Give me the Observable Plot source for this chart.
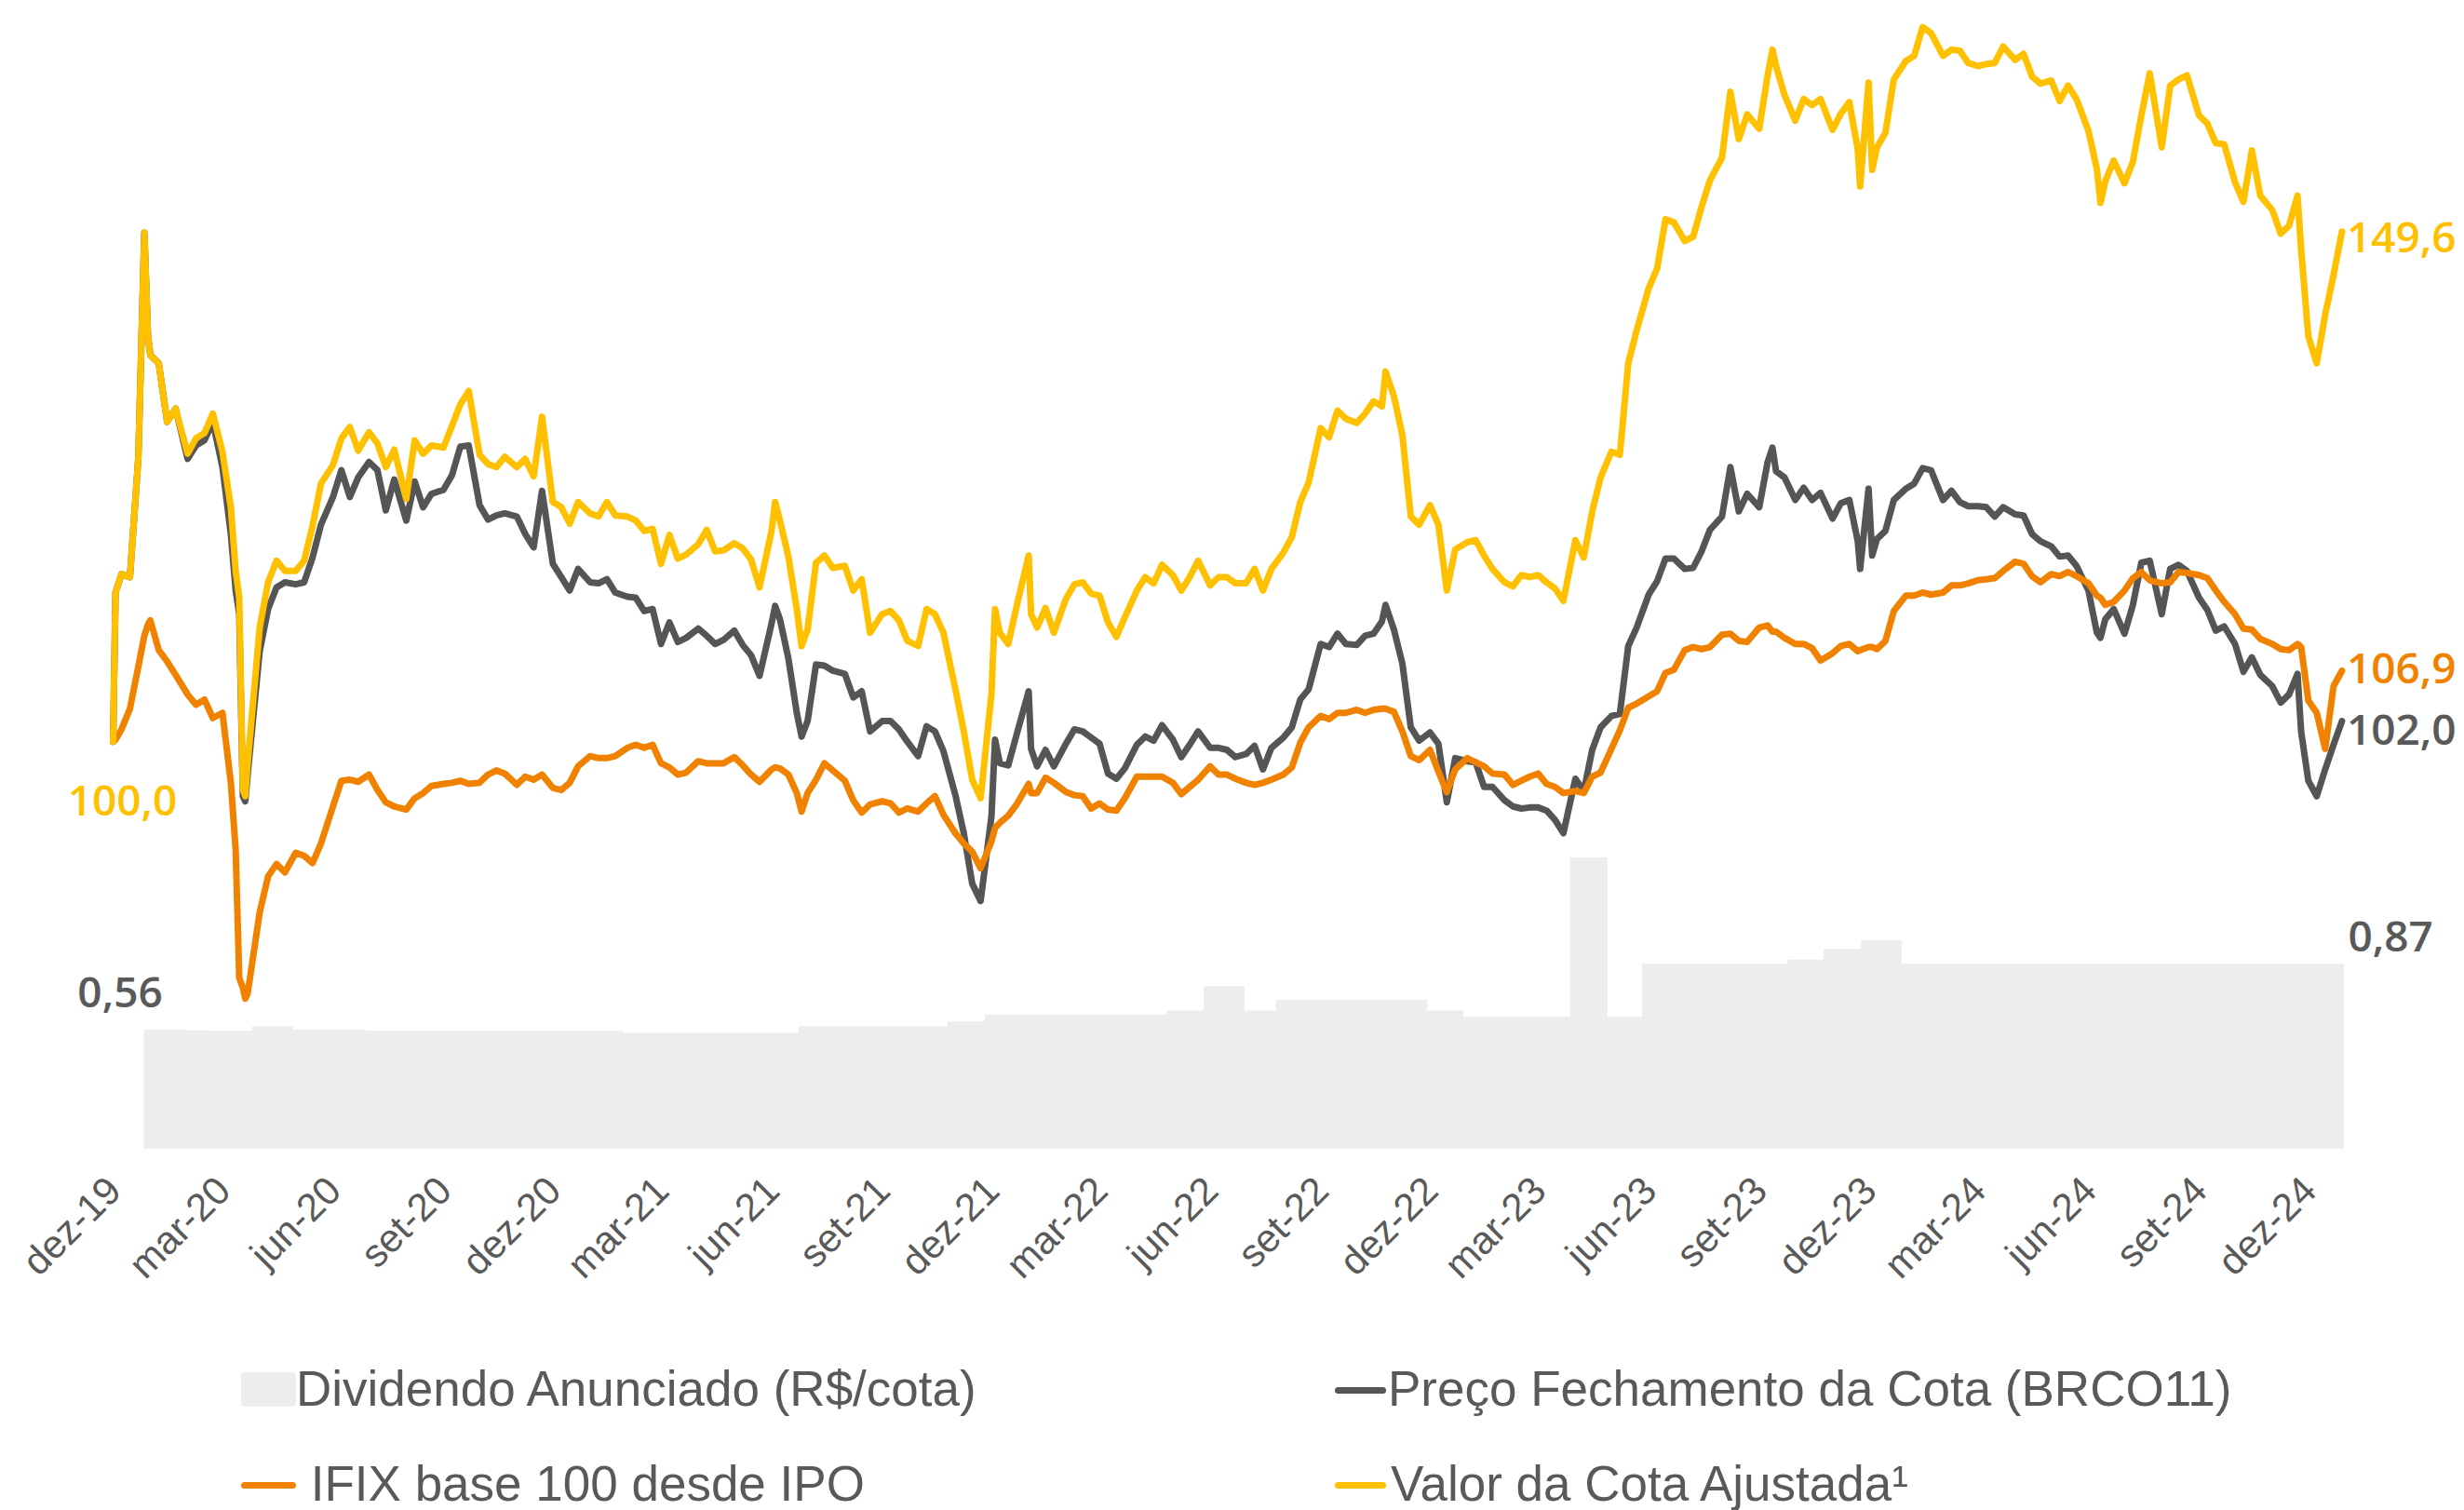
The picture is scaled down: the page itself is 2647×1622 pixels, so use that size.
<!DOCTYPE html>
<html><head><meta charset="utf-8">
<script src="https://cdn.jsdelivr.net/npm/d3@7"></script>
<script src="https://cdn.jsdelivr.net/npm/@observablehq/plot@0.6"></script>
<style>
html,body{margin:0;padding:0;background:#fff;}
#wrap{position:relative;width:2647px;height:1622px;overflow:hidden;background:#fff;}
#wrap svg{position:absolute;left:0;top:0;}
.leg{position:absolute;font-family:"Liberation Sans",Arial,sans-serif;font-size:53px;line-height:53px;color:#595959;white-space:pre;}
.sw{position:absolute;}
</style></head><body><div id="wrap"></div>
<script>
// ---------- DATA ----------
const dates = [
"2019-12-01","2019-12-03","2019-12-08","2019-12-15","2019-12-22","2019-12-27","2019-12-30",
"2020-01-01","2020-01-08","2020-01-15","2020-01-22","2020-02-01","2020-02-08","2020-02-15","2020-02-22",
"2020-03-01","2020-03-08","2020-03-12","2020-03-15","2020-03-18","2020-03-20","2020-03-22",
"2020-04-01","2020-04-08","2020-04-15","2020-04-22","2020-05-01","2020-05-08","2020-05-15","2020-05-22",
"2020-06-01","2020-06-08","2020-06-15","2020-06-22","2020-07-01","2020-07-08","2020-07-15","2020-07-22",
"2020-08-01","2020-08-08","2020-08-15","2020-08-22","2020-09-01","2020-09-08","2020-09-15","2020-09-22",
"2020-10-01","2020-10-08","2020-10-15","2020-10-22","2020-11-01","2020-11-08","2020-11-15","2020-11-22",
"2020-12-01","2020-12-08","2020-12-15","2020-12-22",
"2021-01-01","2021-01-08","2021-01-15","2021-01-22","2021-02-01","2021-02-08","2021-02-15","2021-02-22",
"2021-03-01","2021-03-08","2021-03-15","2021-03-22","2021-04-01","2021-04-08","2021-04-15","2021-04-22",
"2021-05-01","2021-05-08","2021-05-15","2021-05-22",
"2021-06-01","2021-06-04","2021-06-08","2021-06-15","2021-06-22","2021-06-26",
"2021-07-01","2021-07-08","2021-07-15","2021-07-22","2021-08-01","2021-08-08","2021-08-15","2021-08-22",
"2021-09-01","2021-09-08","2021-09-15","2021-09-22","2021-10-01","2021-10-08","2021-10-15","2021-10-22",
"2021-11-01","2021-11-08","2021-11-15","2021-11-22",
"2021-12-01","2021-12-04","2021-12-08","2021-12-15","2021-12-22",
"2022-01-01","2022-01-03","2022-01-08","2022-01-15","2022-01-22",
"2022-02-01","2022-02-08","2022-02-15","2022-02-22","2022-03-01","2022-03-08","2022-03-15","2022-03-22",
"2022-04-01","2022-04-08","2022-04-15","2022-04-22","2022-05-01","2022-05-08","2022-05-15","2022-05-22",
"2022-06-01","2022-06-08","2022-06-15","2022-06-22","2022-07-01","2022-07-08","2022-07-15","2022-07-22",
"2022-08-01","2022-08-08","2022-08-15","2022-08-22","2022-09-01","2022-09-08","2022-09-15","2022-09-22",
"2022-10-01","2022-10-08","2022-10-15","2022-10-22","2022-10-25",
"2022-11-01","2022-11-08","2022-11-15","2022-11-22","2022-12-01","2022-12-08","2022-12-15","2022-12-22",
"2023-01-01","2023-01-08","2023-01-15","2023-01-22","2023-02-01","2023-02-08","2023-02-15","2023-02-22",
"2023-03-01","2023-03-08","2023-03-15","2023-03-22","2023-04-01","2023-04-08","2023-04-15","2023-04-22",
"2023-05-01","2023-05-08","2023-05-15","2023-05-22","2023-06-01","2023-06-08","2023-06-15","2023-06-22",
"2023-07-01","2023-07-08","2023-07-15","2023-07-22","2023-08-01","2023-08-08","2023-08-15","2023-08-22",
"2023-09-01","2023-09-08","2023-09-12","2023-09-15","2023-09-22",
"2023-10-01","2023-10-08","2023-10-15","2023-10-22",
"2023-11-01","2023-11-08","2023-11-15","2023-11-22","2023-11-24",
"2023-12-01","2023-12-04","2023-12-08","2023-12-15","2023-12-22",
"2024-01-01","2024-01-08","2024-01-15","2024-01-22","2024-02-01","2024-02-08","2024-02-15","2024-02-22",
"2024-03-01","2024-03-08","2024-03-15","2024-03-22","2024-04-01","2024-04-08","2024-04-15","2024-04-22",
"2024-05-01","2024-05-08","2024-05-15","2024-05-22",
"2024-06-01","2024-06-08","2024-06-11","2024-06-15","2024-06-22",
"2024-07-01","2024-07-08","2024-07-15","2024-07-22","2024-08-01","2024-08-08","2024-08-15","2024-08-22",
"2024-09-01","2024-09-08","2024-09-15","2024-09-22","2024-10-01","2024-10-08","2024-10-15","2024-10-22",
"2024-11-01","2024-11-08","2024-11-15","2024-11-22","2024-11-25",
"2024-12-01","2024-12-08","2024-12-15","2024-12-22","2024-12-29"
];

// Valor da Cota Ajustada (base 100)
const valorCotaAjustada = [
100.0,114.5,116.3,116.0,127.6,149.5,139.5,
137.6,136.8,131.1,132.4,128.0,129.5,130.0,131.9,
128.2,122.8,116.6,114.0,95.3,94.7,97.9,
111.1,115.5,117.6,116.6,116.6,117.6,121.0,125.1,
126.9,129.5,130.6,128.3,130.1,129.0,126.7,128.4,
123.6,129.3,128.0,128.8,128.6,130.7,132.8,134.1,
127.9,127.0,126.7,127.7,126.7,127.5,125.8,131.6,
123.3,122.8,121.2,123.3,
122.2,121.9,123.3,122.0,121.9,121.5,120.5,120.7,
117.3,120.1,117.8,118.2,119.2,120.6,118.5,118.6,
119.3,118.8,117.7,115.0,
120.5,123.3,121.5,118.0,112.9,109.3,
110.9,117.4,118.1,116.9,117.1,114.7,115.8,110.6,
112.4,112.7,111.8,109.8,109.3,112.9,112.4,110.6,
105.1,101.0,96.3,94.5,
104.6,112.9,110.6,109.5,113.2,
118.1,112.4,111.1,113.0,110.6,
113.9,115.3,115.5,114.4,114.2,111.6,110.2,112.1,
114.7,116.0,115.4,117.2,116.2,114.7,116.0,117.6,
115.2,116.0,116.0,115.4,115.4,116.8,114.7,116.8,
118.4,119.9,123.3,125.2,130.5,129.6,132.2,131.4,
131.0,131.9,133.1,132.6,136.0,
133.6,129.8,121.9,121.1,123.0,121.1,114.7,118.7,
119.4,119.6,118.1,116.8,115.5,115.1,116.2,116.0,
116.2,115.5,114.9,113.7,119.6,117.9,122.4,125.7,
128.2,127.9,136.8,140.0,144.1,146.0,150.8,150.5,
148.7,149.1,152.0,154.6,156.8,163.2,158.6,161.0,
159.6,164.8,167.3,165.7,162.9,
160.4,162.5,161.9,162.5,
159.5,161.1,162.2,157.6,154.0,
164.1,155.6,157.8,159.2,164.4,
166.2,166.7,169.5,168.9,166.7,167.3,167.2,166.0,
165.7,165.9,166.0,167.6,166.3,166.9,164.7,164.0,
164.3,162.3,163.8,162.5,
159.4,155.7,152.4,154.5,156.5,
154.3,156.4,160.9,165.0,157.8,163.8,164.4,164.8,
160.9,160.1,158.2,158.1,154.4,152.5,157.5,153.1,
151.7,149.4,150.2,153.1,147.9,
139.4,136.8,141.5,145.4,149.6
];

// Preço Fechamento da Cota (BRCO11), base 100
const precoFechamento = [
100.0,114.5,116.3,116.0,127.6,149.5,139.5,
137.6,136.8,131.1,132.4,127.5,128.8,129.3,131.1,
126.7,120.2,114.7,112.4,94.7,94.2,96.8,
108.8,112.9,115.0,115.5,115.3,115.5,117.9,121.1,
123.8,126.4,123.8,125.7,127.2,126.4,122.5,125.5,
121.5,125.3,122.8,124.1,124.5,125.9,128.7,128.8,
123.0,121.6,122.0,122.2,121.9,120.2,118.9,124.4,
117.3,116.0,114.7,116.8,
115.5,115.4,115.8,114.5,114.1,114.0,112.7,112.9,
109.5,111.6,109.7,110.1,111.0,110.3,109.5,109.9,
110.8,109.4,108.4,106.4,
111.5,113.2,111.9,108.1,102.8,100.5,
102.0,107.5,107.4,106.9,106.6,104.3,104.9,101.0,
102.0,102.0,101.2,100.0,98.6,101.5,101.0,99.1,
94.8,91.1,86.2,84.5,
92.7,100.2,97.9,97.7,100.7,
104.9,99.3,97.6,99.2,97.6,
99.8,101.2,101.0,100.4,99.8,96.9,96.4,97.4,
99.7,100.5,100.1,101.6,100.2,98.5,99.7,101.0,
99.4,99.4,99.2,98.5,98.8,99.6,97.3,99.4,
100.4,101.4,104.1,105.1,109.5,109.2,110.5,109.5,
109.4,110.3,110.5,111.7,113.3,
110.9,107.6,101.4,100.1,100.9,99.8,94.1,98.4,
98.1,98.0,95.6,95.6,94.3,93.7,93.5,93.6,
93.6,93.3,92.4,91.1,96.4,95.2,99.2,101.4,
102.5,102.7,109.3,111.1,114.3,115.6,117.8,117.8,
116.8,116.9,118.5,120.6,121.9,126.7,122.4,124.1,
122.8,127.2,128.6,126.3,125.7,
123.5,124.7,123.5,124.2,
121.7,123.2,123.5,119.5,116.8,
124.6,118.1,119.7,120.5,123.5,
124.6,125.1,126.6,126.4,123.5,124.4,123.3,122.9,
122.9,122.8,121.9,122.8,122.1,122.0,120.2,119.5,
119.0,118.0,118.1,117.1,
114.7,110.6,110.1,111.9,112.9,
110.5,113.3,117.4,117.6,112.4,116.8,117.2,116.6,
114.0,112.8,110.8,111.2,109.5,106.8,108.2,106.5,
105.4,103.8,104.6,106.6,101.0,
96.2,94.7,97.3,99.7,102.0
];

// IFIX base 100 desde IPO
const ifixBase100 = [
100.0,100.2,101.2,103.2,107.3,110.3,111.4,
111.8,108.9,107.8,106.5,104.6,103.6,104.1,102.3,
102.8,96.0,89.5,77.0,76.1,75.0,75.5,
83.4,86.9,88.1,87.3,89.2,88.9,88.2,90.1,
93.7,96.2,96.3,96.1,96.8,95.3,94.1,93.7,
93.4,94.5,95.0,95.7,95.9,96.0,96.2,95.9,
96.0,96.8,97.2,96.9,95.8,96.6,96.3,96.8,
95.5,95.3,96.0,97.6,
98.6,98.4,98.4,98.6,99.4,99.7,99.4,99.7,
97.9,97.5,96.8,97.0,98.1,97.9,97.9,97.9,
98.5,97.7,96.8,96.1,
97.3,97.5,97.4,96.8,95.0,93.2,
95.0,96.3,97.9,97.2,96.2,94.3,93.1,93.9,
94.2,94.0,93.1,93.5,93.2,94.0,94.7,92.9,
91.1,90.1,89.3,87.7,
90.3,91.6,92.1,92.8,93.9,
95.9,95.0,95.0,96.5,96.0,
95.1,94.8,94.7,93.5,94.0,93.4,93.3,94.5,
96.6,96.6,96.6,96.6,96.0,94.9,95.6,96.3,
97.6,96.8,96.8,96.4,96.0,95.8,96.0,96.3,
96.8,97.5,99.9,101.4,102.5,102.2,102.8,102.8,
103.1,102.8,103.1,103.2,103.2,
102.9,101.0,98.6,98.2,99.2,97.1,95.1,97.3,
98.4,98.0,97.6,96.9,96.8,95.8,96.2,96.6,
96.9,95.9,95.6,95.0,95.2,95.0,96.6,97.0,
99.3,101.1,103.3,103.7,104.4,104.9,106.7,107.0,
108.9,109.2,109.0,109.2,110.4,110.5,109.8,109.7,
111.1,111.3,110.7,110.7,110.1,
109.5,109.5,109.1,107.9,
108.6,109.3,109.5,108.8,108.9,
109.2,109.2,109.0,109.8,112.7,
114.2,114.2,114.5,114.3,114.5,115.2,115.2,115.4,
115.7,115.8,115.9,116.6,117.5,117.3,116.1,115.5,
116.3,116.1,116.5,116.1,
115.4,114.2,114.0,113.3,113.6,
114.7,115.9,116.5,115.7,115.4,115.5,116.5,116.4,
116.2,115.9,114.7,113.6,112.4,111.0,110.9,110.0,
109.5,109.0,108.9,109.5,109.2,
104.0,102.8,99.3,105.4,106.9
];

// Dividendo Anunciado (R$/cota): dates where the value changes
const dividendDates = [
"2019-12-27","2020-01-31","2020-02-20","2020-03-26","2020-04-29","2020-06-29",
"2021-01-29","2021-06-24","2021-10-26","2021-11-26","2022-04-26","2022-05-27",
"2022-06-30","2022-07-26","2022-11-29","2022-12-29","2023-03-28","2023-04-28",
"2023-05-27","2023-09-25","2023-10-25","2023-11-25","2023-12-29","2024-12-31"
];
const dividendValues = [
0.56,0.557,0.555,0.575,0.56,0.555,
0.545,0.575,0.60,0.63,0.65,0.765,
0.65,0.70,0.65,0.62,1.37,0.62,
0.87,0.89,0.94,0.98,0.87,0.87
];

const tickDates = ["2019-12-01","2020-03-01","2020-06-01","2020-09-01","2020-12-01","2021-03-01","2021-06-01",
"2021-09-01","2021-12-01","2022-03-01","2022-06-01","2022-09-01","2022-12-01","2023-03-01","2023-06-01",
"2023-09-01","2023-12-01","2024-03-01","2024-06-01","2024-09-01","2024-12-01"];
const tickLabels = ["dez-19","mar-20","jun-20","set-20","dez-20","mar-21","jun-21","set-21","dez-21","mar-22",
"jun-22","set-22","dez-22","mar-23","jun-23","set-23","dez-23","mar-24","jun-24","set-24","dez-24"];

const legendLabels = ["Dividendo Anunciado (R$/cota)", "Preço Fechamento da Cota (BRCO11)", " IFIX base 100 desde IPO", "Valor da Cota Ajustada¹"];

// ---------- STYLE ----------
const YELLOW = "#FFC000", ORANGE = "#F08200", GRAY = "#555555", TEXT = "#595959", BAR = "#EDEDED";

const locale = d3.formatLocale({decimal: ",", thousands: ".", grouping: [3], currency: ["R$ ", ""]});
const f1 = locale.format(".1f"), f2 = locale.format(".2f");
const parse = d3.utcParse("%Y-%m-%d");

const W = 2647, H = 1420;
const xDomain = [parse("2019-12-01"), parse("2024-12-31")];
const common = {width: W, height: H, marginLeft: 121, marginRight: 129, marginTop: 23};

const rows = dates.map((d, i) => ({date: parse(d), valor: valorCotaAjustada[i], preco: precoFechamento[i], ifix: ifixBase100[i]}));
const divRows = dividendDates.map((d, i) => ({date: parse(d), value: dividendValues[i]}));
const first = rows[0], last = rows[rows.length - 1];
const labelFont = {fontFamily: "'Open Sans', 'Noto Sans', sans-serif", fontSize: 46, fontWeight: 600};

const barsSvg = Plot.plot({
  ...common, marginBottom: 186,
  style: {background: "white"},
  x: {type: "utc", domain: xDomain, axis: null},
  y: {domain: [0, 5.30], axis: null},
  marks: [
    Plot.areaY(divRows, {x: "date", y: "value", curve: "step-after", fill: BAR}),
    Plot.text([divRows[0]], {x: "date", y: "value", text: d => f2(d.value), textAnchor: "middle", lineAnchor: "bottom", dx: -26, dy: -25, fill: TEXT, ...labelFont}),
    Plot.text([divRows[divRows.length - 1]], {x: "date", y: "value", text: d => f2(d.value), textAnchor: "start", lineAnchor: "bottom", dx: 4, dy: -14, fill: TEXT, ...labelFont})
  ]
});

const linesSvg = Plot.plot({
  ...common, marginBottom: 182,
  style: {background: "transparent", overflow: "visible"},
  x: {type: "utc", domain: xDomain, axis: null},
  y: {domain: [60, 170], axis: null},
  marks: [
    Plot.lineY(rows, {x: "date", y: "preco", stroke: GRAY, strokeWidth: 7}),
    Plot.lineY(rows, {x: "date", y: "ifix", stroke: ORANGE, strokeWidth: 7}),
    Plot.lineY(rows, {x: "date", y: "valor", stroke: YELLOW, strokeWidth: 7}),
    Plot.text(tickLabels, {x: (d, i) => parse(tickDates[i]), text: d => d, frameAnchor: "bottom", rotate: -45,
      textAnchor: "end", lineAnchor: "bottom", dx: 11, dy: 43, fontSize: 42, fill: TEXT,
      fontFamily: "'Liberation Sans', Arial, sans-serif"}),
    Plot.text([first], {x: "date", y: "valor", text: d => f1(d.valor), fill: YELLOW, textAnchor: "middle", lineAnchor: "bottom", dx: 10, dy: 79, ...labelFont}),
    Plot.text([last], {x: "date", y: "valor", text: d => f1(d.valor), fill: YELLOW, textAnchor: "start", lineAnchor: "bottom", dx: 5, dy: 22, ...labelFont}),
    Plot.text([last], {x: "date", y: "ifix", text: d => f1(d.ifix), fill: ORANGE, textAnchor: "start", lineAnchor: "bottom", dx: 5, dy: 14, ...labelFont}),
    Plot.text([last], {x: "date", y: "preco", text: d => f1(d.preco), fill: TEXT, textAnchor: "start", lineAnchor: "bottom", dx: 5, dy: 25, ...labelFont})
  ]
});

const wrap = document.getElementById("wrap");
wrap.appendChild(barsSvg);
wrap.appendChild(linesSvg);

// ---------- LEGEND (below the chart) ----------
function sw(left, top, w, h, color, radius) {
  const e = document.createElement("div");
  e.className = "sw";
  Object.assign(e.style, {left: left + "px", top: top + "px", width: w + "px", height: h + "px", background: color, borderRadius: radius + "px"});
  wrap.appendChild(e);
}
function txt(left, top, s) {
  const e = document.createElement("div");
  e.className = "leg";
  e.style.left = left + "px"; e.style.top = top + "px";
  e.textContent = s;
  wrap.appendChild(e);
}
sw(259, 1474, 59, 37, BAR, 4);
txt(318, 1465, legendLabels[0]);
sw(1434, 1490, 55, 7, GRAY, 3.5);
txt(1491, 1465, legendLabels[1]);
sw(259, 1592, 59, 7, ORANGE, 3.5);
txt(319, 1567, legendLabels[2]);
sw(1434, 1592, 55, 7, YELLOW, 3.5);
txt(1494, 1567, legendLabels[3]);
</script>
</body></html>
